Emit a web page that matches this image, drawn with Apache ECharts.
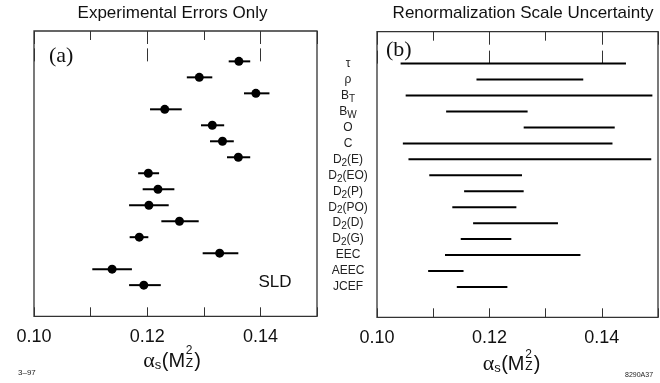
<!DOCTYPE html>
<html><head><meta charset="utf-8">
<script src="https://cdn.jsdelivr.net/npm/echarts@6/dist/echarts.min.js"></script>
<style>html,body{margin:0;padding:0;background:#fff}#c{width:660px;height:383px}</style>
</head><body><div id="c"></div>
<script>
const rowLabels = ['τ','ρ','B{s|T}','B{s|W}','O','C','D{s|2}(E)','D{s|2}(EO)','D{s|2}(P)','D{s|2}(PO)','D{s|2}(D)','D{s|2}(G)','EEC','AEEC','JCEF'];
const expCentral = [0.1362,0.1292,0.1392,0.1231,0.1315,0.1333,0.1361,0.1202,0.1219,0.1203,0.1257,0.1186,0.1328,0.1138,0.1194];
const expLow     = [0.1344,0.1270,0.1371,0.1205,0.1295,0.1311,0.1341,0.1184,0.1192,0.1168,0.1225,0.1169,0.1298,0.1103,0.1168];
const expHigh    = [0.1382,0.1315,0.1416,0.1261,0.1336,0.1353,0.1382,0.1221,0.1248,0.1238,0.1291,0.1202,0.1361,0.1173,0.1224];
const scaleLow   = [0.1042,0.1177,0.1051,0.1123,0.1261,0.1046,0.1056,0.1093,0.1155,0.1134,0.1171,0.1149,0.1121,0.1091,0.1142];
const scaleHigh  = [0.1443,0.1367,0.1490,0.1268,0.1423,0.1419,0.1488,0.1258,0.1261,0.1248,0.1322,0.1239,0.1362,0.1154,0.1232];
const xTickLabels = ['0.10','0.12','0.14'];
const panelTitles = ['Experimental Errors Only','Renormalization Scale Uncertainty'];

const SANS = 'Liberation Sans, Arial, sans-serif';
const SERIF = 'Liberation Serif, Times New Roman, serif';
const FRAME = '#333';

function xAxes(gridIndex) {
  const base = {gridIndex, type:'value', min:0.10, max:0.15, splitLine:{show:false}, axisLine:{show:false}};
  return [
    Object.assign({}, base, {position:'bottom', interval:0.02,
      axisTick:{show:true, inside:true, length:13, lineStyle:{color:FRAME, width:1}},
      axisLabel:{show:true, margin:12, fontSize:18, fontFamily:SANS, color:'#111', showMaxLabel:false,
        formatter: v => { const s = v.toFixed(2); return xTickLabels.indexOf(s) >= 0 ? s : ''; }}}),
    Object.assign({}, base, {position:'bottom', interval:0.01,
      axisTick:{show:true, inside:true, length:9, lineStyle:{color:FRAME, width:1}}, axisLabel:{show:false}}),
    Object.assign({}, base, {position:'top', interval:0.02,
      axisTick:{show:true, inside:true, length:13, lineStyle:{color:FRAME, width:1}}, axisLabel:{show:false}}),
    Object.assign({}, base, {position:'top', interval:0.01,
      axisTick:{show:true, inside:true, length:9, lineStyle:{color:FRAME, width:1}}, axisLabel:{show:false}})
  ];
}

const rows = rowLabels.map((_, i) => i);
const expBars = rows.map(i => [expLow[i], expHigh[i], i]);
const expPts = rows.map(i => [expCentral[i], i]);
const scaleBars = rows.map(i => [scaleLow[i], scaleHigh[i], i]);

function segRender(params, api) {
  const p1 = api.coord([api.value(0), api.value(2)]);
  const p2 = api.coord([api.value(1), api.value(2)]);
  return {type:'line', shape:{x1:p1[0], y1:p1[1], x2:p2[0], y2:p2[1]},
    style:{stroke:'#000', lineWidth:2}};
}

function axisTitle(x0, y0) {
  const t = (text, x, y, size, fam) => ({type:'text', x: x0 + x, y: y0 + y,
    style:{text, fontSize:size, fontFamily:fam, fill:'#111', align:'left', verticalAlign:'middle'}});
  return {type:'group', children:[
    t('α', 0, 0, 22, SERIF),
    t('s', 11.5, 4, 13, SANS),
    t('(M', 18.5, 0, 20, SANS),
    t('2', 42.5, -10, 12, SANS),
    t('Z', 42.5, 2.5, 12, SANS),
    t(')', 51, 0, 20, SANS)
  ]};
}

const chart = echarts.init(document.getElementById('c'), null, {renderer:'canvas'});
chart.setOption({
  animation:false,
  backgroundColor:'#fff',
  grid:[
    {left:34, top:31, width:283, height:285.3, show:true, borderColor:FRAME, borderWidth:1.3, backgroundColor:'transparent'},
    {left:377, top:31.7, width:281, height:285.6, show:true, borderColor:FRAME, borderWidth:1.3, backgroundColor:'transparent'}
  ],
  xAxis: xAxes(0).concat(xAxes(1)),
  yAxis:[
    {gridIndex:0, type:'value', inverse:true, min:-1.9, max:15.95, show:false},
    {gridIndex:1, type:'value', inverse:true, min:-2, max:15.9, interval:1,
      axisLine:{show:false}, axisTick:{show:false}, splitLine:{show:false},
      axisLabel:{show:true, margin:29, align:'center', fontSize:12, fontFamily:SANS, color:'#222',
        showMaxLabel:false, showMinLabel:false,
        formatter: v => (Number.isInteger(v) && v >= 0 && v < rowLabels.length) ? rowLabels[v] : '',
        rich:{s:{fontSize:10, fontFamily:SANS, color:'#222', padding:[7,0,0,0]}}}}
  ],
  series:[
    {type:'custom', xAxisIndex:0, yAxisIndex:0, data:expBars, renderItem:segRender, encode:{x:[0,1], y:2}},
    {type:'scatter', xAxisIndex:0, yAxisIndex:0, data:expPts, symbol:'circle', symbolSize:9,
      itemStyle:{color:'#000', opacity:1}, emphasis:{disabled:true}, z:5},
    {type:'custom', xAxisIndex:4, yAxisIndex:1, data:scaleBars, renderItem:segRender, encode:{x:[0,1], y:2}}
  ],
  graphic:[
    {type:'text', x:172.5, y:13, style:{text:panelTitles[0], fontSize:17, fontFamily:SANS, fill:'#111', align:'center', verticalAlign:'middle'}},
    {type:'text', x:523, y:13, style:{text:panelTitles[1], fontSize:17, fontFamily:SANS, fill:'#111', align:'center', verticalAlign:'middle'}},
    {type:'text', x:49, y:56, style:{text:'(a)', fontSize:22, fontFamily:SERIF, fill:'#111', align:'left', verticalAlign:'middle'}},
    {type:'text', x:386, y:50.5, style:{text:'(b)', fontSize:22, fontFamily:SERIF, fill:'#111', align:'left', verticalAlign:'middle'}},
    {type:'text', x:275, y:282.5, style:{text:'SLD', fontSize:17, fontFamily:SANS, fill:'#111', align:'center', verticalAlign:'middle'}},
    {type:'text', x:18, y:372.5, style:{text:'3–97', fontSize:8, fontFamily:SANS, fill:'#222', align:'left', verticalAlign:'middle'}},
    {type:'text', x:625, y:375.5, style:{text:'8290A37', fontSize:7, fontFamily:SANS, fill:'#222', align:'left', verticalAlign:'middle'}},
    axisTitle(143.3, 361),
    axisTitle(482.7, 364.5)
  ]
});
</script></body></html>
